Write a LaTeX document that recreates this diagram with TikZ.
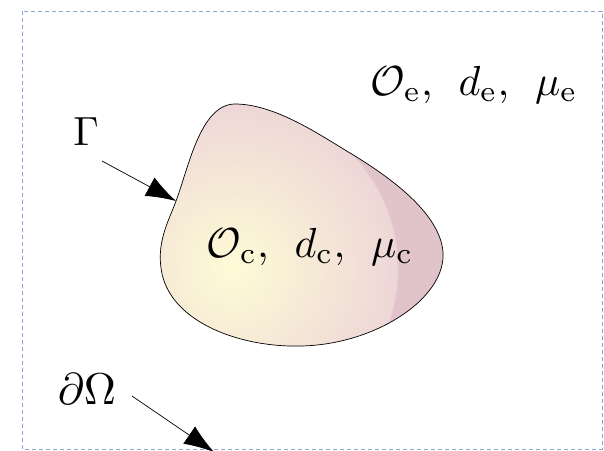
\documentclass[tikz,border=0pt]{standalone}
\usetikzlibrary{arrows.meta}
\definecolor{framec}{RGB}{140,165,212}
\definecolor{cin}{RGB}{254,251,214}
\definecolor{cmid}{RGB}{237,215,215}
\definecolor{cout}{RGB}{225,195,202}
\pgfdeclareradialshading{blobshade}{\pgfpoint{0bp}{0bp}}{color(0bp)=(cin); color(163bp)=(cmid); color(165bp)=(cout); color(400bp)=(cout)}
\newcommand{\gapsp}{\hspace{0.45em}}
\tikzset{
  lbl/.style={inner sep=0pt, scale=4.2},
  pointer/.style={line width=0.7pt, -{Latex[length=30pt,width=21pt]}},
  frame/.style={draw=framec, line width=0.9pt, dash pattern=on 4pt off 3pt}
}
\begin{document}
\begin{tikzpicture}[x=1pt,y=-1pt]
\useasboundingbox (0,0) rectangle (604,450);
\begin{scope}
\clip (0,0) rectangle (604,450);
\draw[frame] (22,11) rectangle (602,449);
\def\blob{(176,201) .. controls (188,170) and (200,104) .. (235,104)
  .. controls (275,104) and (320,135) .. (350,153)
  .. controls (395,180) and (440,215) .. (443,252)
  .. controls (446,295) and (385,338) .. (317,345)
  .. controls (250,352) and (168,325) .. (161,268)
  .. controls (157,240) and (170,218) .. cycle}
\begin{scope}
\clip \blob;
\node[inner sep=0pt] at (233,268) {\pgfuseshading{blobshade}};
\end{scope}
\draw[line width=0.7pt] \blob;
\coordinate (gtip) at (176,201);
\coordinate (otip) at (214,452);
\node[lbl, scale=0.97] (gamma) at (86,132) {$\Gamma$};
\node[lbl, scale=1.06] (domega) at (87,389) {$\partial\Omega$};
\node[lbl, anchor=base] (ext) at (474,95) {$\mathcal{O}_\mathrm{e},\gapsp d_\mathrm{e},\gapsp \mu_\mathrm{e}$};
\node[lbl, anchor=base] (int) at (310,257) {$\mathcal{O}_\mathrm{c},\gapsp d_\mathrm{c},\gapsp \mu_\mathrm{c}$};
\coordinate (gs) at (102,161);
\coordinate (os) at (132,396);
\draw[pointer] (gs) -- (gtip);
\draw[pointer] (os) -- (otip);
\end{scope}
\end{tikzpicture}
\end{document}
